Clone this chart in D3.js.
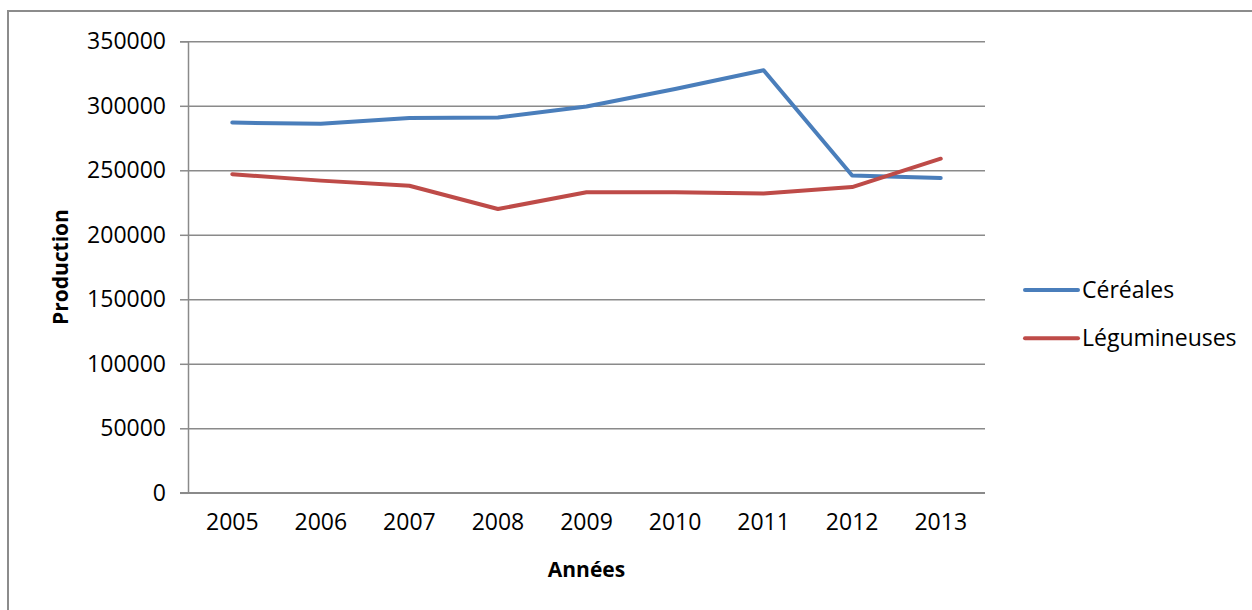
<!DOCTYPE html>
<html lang="fr">
<head>
  <meta charset="UTF-8">
  <title>Production</title>
  <script src="https://cdn.jsdelivr.net/npm/d3@7"></script>
  <style>
    body { margin: 0; background: #fff; }
    svg text { font-family: "Open Sans", "Liberation Sans", sans-serif; fill: #000; }
  </style>
</head>
<body>
  <svg id="svg" width="1252" height="610"></svg>

  <script>
    // data
    const years = ["2005", "2006", "2007", "2008", "2009", "2010", "2011", "2012", "2013"]
    const cereales = [287000, 286000, 290500, 291000, 299500, 313000, 327500, 246000, 244000]
    const legumineuses = [247000, 242000, 238000, 220000, 233000, 233000, 232000, 237000, 259000]
    const yTicks = [0, 50000, 100000, 150000, 200000, 250000, 300000, 350000]

    const series = [
      { name: "Céréales", values: cereales, color: "#4A7EBB" },
      { name: "Légumineuses", values: legumineuses, color: "#BE4B48" }
    ]

    const margin = { top: 41.3, left: 188, right: 267, bottom: 117.2 }
    const W = 1252, H = 610
    const width = W - margin.left - margin.right
    const height = H - margin.top - margin.bottom

    const svg = d3.select("#svg")

    // outer chart frame
    svg.append("rect")
      .attr("x", 8).attr("y", 11)
      .attr("width", 1300).attr("height", 700)
      .attr("fill", "none")
      .attr("stroke", "#8c8c8c")
      .attr("stroke-width", 2)

    const xscale = d3.scaleBand()
      .domain(years)
      .range([margin.left, margin.left + width])
      .padding(0)

    const yscale = d3.scaleLinear()
      .domain([0, 350000])
      .range([margin.top + height, margin.top])

    // gridlines
    svg.append("g")
      .attr("transform", `translate(${margin.left}, 0)`)
      .call(d3.axisLeft(yscale).tickValues(yTicks).tickSize(-width).tickFormat(""))
      .call(g => g.select(".domain").remove())
      .call(g => g.selectAll("line").attr("stroke", "#8a8a8a").attr("stroke-width", 1.5))

    // y axis
    svg.append("g")
      .attr("transform", `translate(${margin.left}, 0)`)
      .call(d3.axisLeft(yscale).tickValues(yTicks).tickSize(8).tickPadding(14).tickFormat(d3.format("d")))
      .call(g => g.select(".domain").attr("stroke", "#8a8a8a").attr("stroke-width", 1.5))
      .call(g => g.selectAll("line").attr("stroke", "#8a8a8a").attr("stroke-width", 1.5))
      .call(g => g.selectAll("text").attr("font-size", 23).attr("font-family", null).attr("fill", "#000"))

    // x axis
    svg.append("g")
      .attr("transform", `translate(0, ${margin.top + height})`)
      .call(d3.axisBottom(xscale).tickSize(0).tickPadding(21).tickSizeOuter(0))
      .call(g => g.select(".domain").remove())
      .call(g => g.selectAll("text").attr("font-size", 23).attr("font-family", null).attr("fill", "#000"))

    svg.append("line")
      .attr("x1", margin.left - 8).attr("x2", margin.left + width)
      .attr("y1", yscale(0)).attr("y2", yscale(0))
      .attr("stroke", "#8a8a8a").attr("stroke-width", 1.5)

    // axis titles
    svg.append("text")
      .attr("x", margin.left + width / 2).attr("y", 577)
      .attr("text-anchor", "middle")
      .attr("font-size", 21).attr("font-weight", "bold")
      .text("Années")

    svg.append("text")
      .attr("transform", `translate(68, ${margin.top + height / 2}) rotate(-90)`)
      .attr("text-anchor", "middle")
      .attr("font-size", 21).attr("font-weight", "bold")
      .text("Production")

    // lines
    const line = d3.line()
      .x((d, i) => xscale(years[i]) + xscale.bandwidth() / 2)
      .y(d => yscale(d))

    svg.append("g")
      .selectAll("path")
      .data(series)
      .enter()
      .append("path")
      .attr("d", d => line(d.values))
      .attr("fill", "none")
      .attr("stroke", d => d.color)
      .attr("stroke-width", 4)
      .attr("stroke-linecap", "round")
      .attr("stroke-linejoin", "round")

    // legend
    const legend = svg.append("g")
      .selectAll("g")
      .data(series)
      .enter()
      .append("g")
      .attr("transform", (d, i) => `translate(1025, ${290 + i * 48.3})`)

    legend.append("line")
      .attr("x1", 0).attr("x2", 53)
      .attr("stroke", d => d.color)
      .attr("stroke-width", 4)
      .attr("stroke-linecap", "round")

    legend.append("text")
      .attr("x", 57).attr("dy", "0.35em")
      .attr("font-size", 23)
      .text(d => d.name)
  </script>
</body>
</html>
